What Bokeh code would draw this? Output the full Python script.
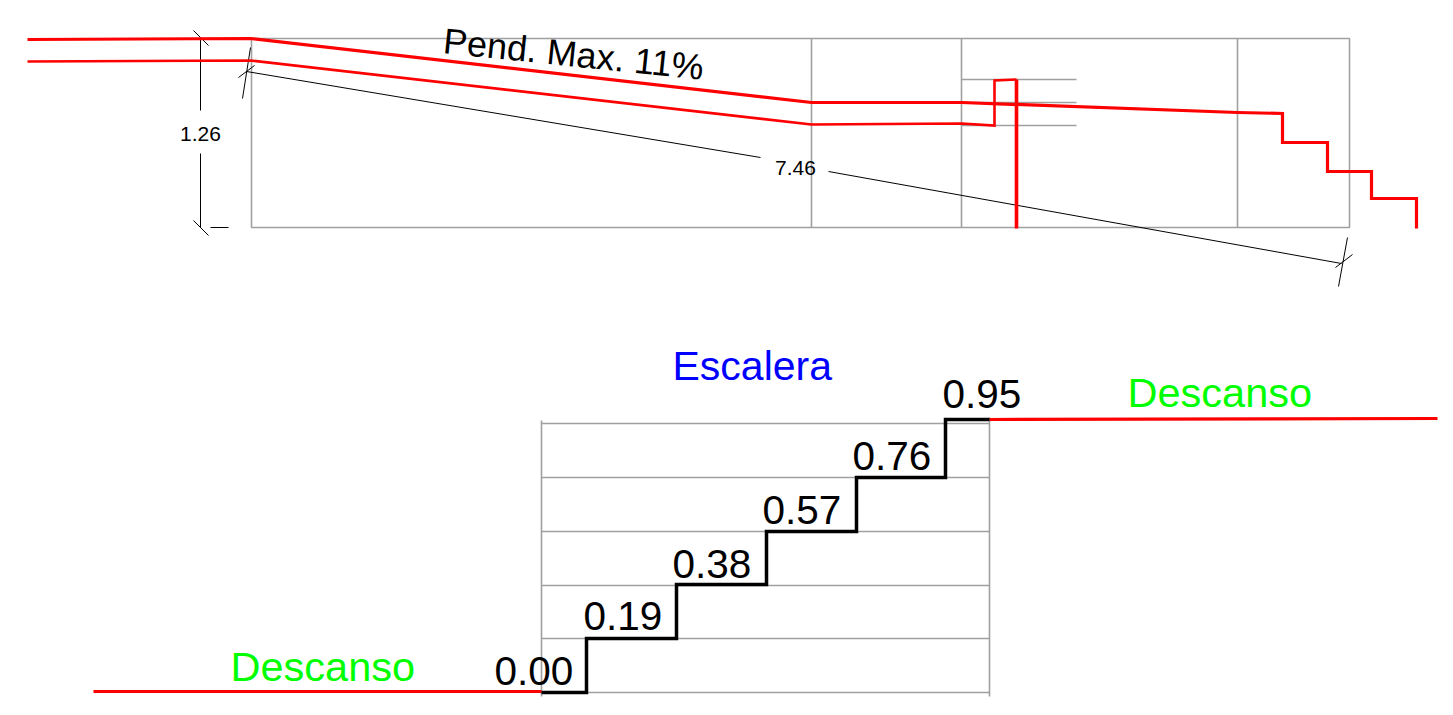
from bokeh.plotting import figure
from bokeh.models import Range1d
from bokeh.core.properties import value
from bokeh.embed import file_html
from bokeh.resources import INLINE

# Drawing geometry (drawing units; y runs downward)
profile_top_x = [27, 250, 811, 961, 1237, 1282, 1282, 1327, 1327, 1371, 1371, 1416, 1416]
profile_top_y = [39, 38, 102, 102, 112, 113, 142, 142, 171, 171, 198, 198, 228]
profile_low_x = [27, 250, 811, 961, 994, 994, 1016]
profile_low_y = [61, 60, 124, 123, 125, 80, 79]
profile_post_x = [1016, 1016]
profile_post_y = [79, 228]

frame_x = [251, 1349, 1349, 251, 251]
frame_y = [38, 38, 227, 227, 38]
frame_div_x = [811, 961, 1237]
frame_div_top = 38
frame_div_bottom = 227
short_y = [79, 102, 125]
short_x = [961, 1076]

dim_lines_x = [[200, 200], [200, 200], [193, 208], [193, 208], [210, 228],
               [246, 760], [828, 1341], [242, 250], [238, 254], [1338, 1347], [1335, 1352]]
dim_lines_y = [[38, 110], [153, 227], [30, 45], [220, 235], [227, 227],
               [71, 157], [171, 263], [98, 47], [77, 65], [286, 237], [267, 254]]

stair_x = [541, 586, 586, 676, 676, 766, 766, 856, 856, 945, 945, 989]
stair_y = [692, 692, 638, 638, 584, 584, 531, 531, 477, 477, 419, 419]
landing_x = [[93, 541], [989, 1437]]
landing_y = [[691, 691], [419, 418]]
grid_y = [423, 477, 531, 585, 638, 692]
grid_x = [541, 989]
grid_post_x = [541, 989]
grid_post_top = [420, 417]
grid_post_bottom = [696, 696]

level_labels = ["0.00", "0.19", "0.38", "0.57", "0.76", "0.95"]
level_x = [494, 583, 672, 762, 852, 942]
level_y = [670, 615, 563, 509, 455, 393]

GREY = "#a0a0a0"
RED = "#ff0000"
FONT = value("Liberation Sans")

p = figure(width=1445, height=707, output_backend="svg", toolbar_location=None,
           x_range=Range1d(0, 1445), y_range=Range1d(707, 0),
           min_border=0, outline_line_color=None, background_fill_color="white")
p.xaxis.visible = False
p.yaxis.visible = False
p.xgrid.visible = False
p.ygrid.visible = False

# grey frames
p.line(frame_x, frame_y, line_color=GREY, line_width=1.6)
p.multi_line([[x, x] for x in frame_div_x],
             [[frame_div_top, frame_div_bottom] for _ in frame_div_x],
             line_color=GREY, line_width=1.6)
p.multi_line([short_x for _ in short_y], [[y, y] for y in short_y], line_color=GREY, line_width=1.6)
p.multi_line([grid_x for _ in grid_y], [[y, y] for y in grid_y], line_color=GREY, line_width=1.6)
p.multi_line([[x, x] for x in grid_post_x],
             [[a, b] for a, b in zip(grid_post_top, grid_post_bottom)],
             line_color=GREY, line_width=1.6)

# dimension lines
p.multi_line(dim_lines_x, dim_lines_y, line_color="black", line_width=1)

# red profile
p.line(profile_top_x, profile_top_y, line_color=RED, line_width=3.2, line_join="miter")
p.line(profile_low_x, profile_low_y, line_color=RED, line_width=2.6, line_join="miter")
p.line(profile_post_x, profile_post_y, line_color=RED, line_width=3.6)

# stair
p.multi_line(landing_x, landing_y, line_color=RED, line_width=3.2)
p.line(stair_x, stair_y, line_color="black", line_width=3.5, line_join="miter")

# texts
p.text(level_x, level_y, text=level_labels, text_font=FONT, text_font_size="40.5px",
       text_color="black", text_baseline="middle", text_align="left")
p.text([672], [365], text=["Escalera"], text_font=FONT, text_font_size="41px",
       text_color="#0000ff", text_baseline="middle")
p.text([1127, 230], [392, 666], text=["Descanso", "Descanso"], text_font=FONT,
       text_font_size="41.5px", text_color="#00ff00", text_baseline="middle")
p.text([443], [40], text=["Pend. Max. 11%"], angle=[-0.103], text_font=FONT,
       text_font_size="36px", text_color="black", text_baseline="middle")
p.text([200, 795], [133, 167], text=["1.26", "7.46"], text_font=FONT, text_font_size="21px",
       text_color="black", text_baseline="middle", text_align="center")

open("out.html", "w").write(file_html(p, INLINE))
